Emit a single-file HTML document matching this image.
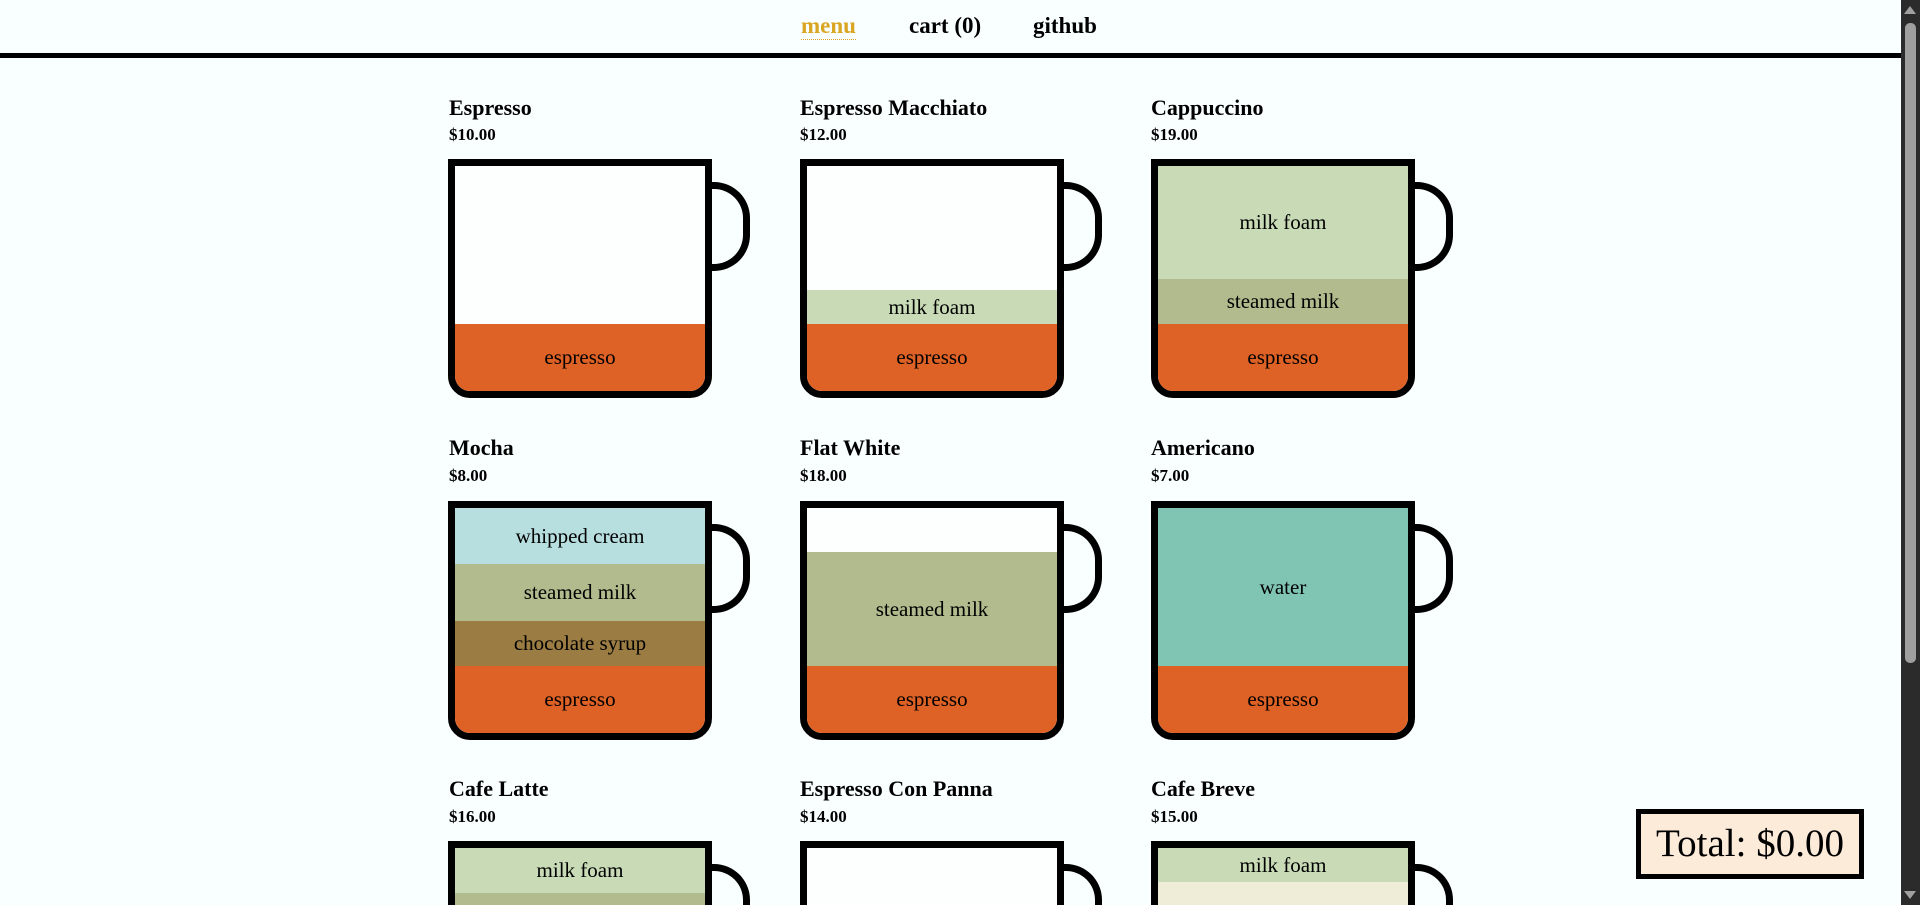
<!DOCTYPE html>
<html><head><meta charset="utf-8">
<style>
*{margin:0;padding:0;box-sizing:border-box}
html,body{width:1920px;height:905px;overflow:hidden;background:#f8fffe;font-family:"Liberation Serif",serif;color:#000}
#page{position:relative;width:1920px;height:905px;overflow:hidden;background:#f8fffe}
.abs{position:absolute}
.nav a{position:absolute;top:12px;font-size:23px;font-weight:bold;color:#000;text-decoration:none;line-height:27px}
.title{position:absolute;font-size:22px;font-weight:bold;line-height:24px}
.price{position:absolute;font-size:17px;font-weight:bold;line-height:18px}
.cup{position:absolute;width:264px;height:239px;border:7px solid #000;border-radius:0 0 22px 22px;overflow:hidden;background:#fdffff}
.handle{position:absolute;width:38px;height:89px;border:7px solid #000;border-left:none;border-radius:0 36px 36px 0}
.layer{position:absolute;left:0;width:100%;display:flex;align-items:center;justify-content:center;font-size:21px}
.esp{background:#de6125}.foam{background:#c8dbb6}.steam{background:#b1bb8d}.cream{background:#b8dfe0}.choc{background:#9b7c43}.water{background:#80c4b3}.half{background:#efedd8}
</style></head><body>
<div id="page">
<div class="nav">
<a href="#" style="left:801px;color:#daa520;border-bottom:1px dotted #daa520">menu</a>
<a href="#" style="left:909px">cart (0)</a>
<a href="#" style="left:1033px">github</a>
</div>
<div class="abs" style="left:0;top:53px;width:1901px;height:5px;background:#000"></div>

<!-- row 1 -->
<div class="title" style="left:449px;top:96px">Espresso</div>
<div class="price" style="left:449px;top:126px">$10.00</div>
<div class="cup" style="left:448px;top:159px">
<div class="layer esp" style="top:158px;height:67px">espresso</div></div>
<div class="handle" style="left:712px;top:182px"></div>

<div class="title" style="left:800px;top:96px">Espresso Macchiato</div>
<div class="price" style="left:800px;top:126px">$12.00</div>
<div class="cup" style="left:800px;top:159px">
<div class="layer foam" style="top:124px;height:34px">milk foam</div>
<div class="layer esp" style="top:158px;height:67px">espresso</div></div>
<div class="handle" style="left:1064px;top:182px"></div>

<div class="title" style="left:1151px;top:96px">Cappuccino</div>
<div class="price" style="left:1151px;top:126px">$19.00</div>
<div class="cup" style="left:1151px;top:159px">
<div class="layer foam" style="top:0;height:113px">milk foam</div>
<div class="layer steam" style="top:113px;height:45px">steamed milk</div>
<div class="layer esp" style="top:158px;height:67px">espresso</div></div>
<div class="handle" style="left:1415px;top:182px"></div>

<!-- row 2 -->
<div class="title" style="left:449px;top:436px">Mocha</div>
<div class="price" style="left:449px;top:467px">$8.00</div>
<div class="cup" style="left:448px;top:501px">
<div class="layer cream" style="top:0;height:56px">whipped cream</div>
<div class="layer steam" style="top:56px;height:57px">steamed milk</div>
<div class="layer choc" style="top:113px;height:45px">chocolate syrup</div>
<div class="layer esp" style="top:158px;height:67px">espresso</div></div>
<div class="handle" style="left:712px;top:524px"></div>

<div class="title" style="left:800px;top:436px">Flat White</div>
<div class="price" style="left:800px;top:467px">$18.00</div>
<div class="cup" style="left:800px;top:501px">
<div class="layer steam" style="top:44px;height:114px">steamed milk</div>
<div class="layer esp" style="top:158px;height:67px">espresso</div></div>
<div class="handle" style="left:1064px;top:524px"></div>

<div class="title" style="left:1151px;top:436px">Americano</div>
<div class="price" style="left:1151px;top:467px">$7.00</div>
<div class="cup" style="left:1151px;top:501px">
<div class="layer water" style="top:0;height:158px">water</div>
<div class="layer esp" style="top:158px;height:67px">espresso</div></div>
<div class="handle" style="left:1415px;top:524px"></div>

<!-- row 3 -->
<div class="title" style="left:449px;top:777px">Cafe Latte</div>
<div class="price" style="left:449px;top:808px">$16.00</div>
<div class="cup" style="left:448px;top:841px">
<div class="layer foam" style="top:0;height:45px">milk foam</div>
<div class="layer steam" style="top:45px;height:113px">steamed milk</div>
<div class="layer esp" style="top:158px;height:67px">espresso</div></div>
<div class="handle" style="left:712px;top:864px"></div>

<div class="title" style="left:800px;top:777px">Espresso Con Panna</div>
<div class="price" style="left:800px;top:808px">$14.00</div>
<div class="cup" style="left:800px;top:841px"></div>
<div class="handle" style="left:1064px;top:864px"></div>

<div class="title" style="left:1151px;top:777px">Cafe Breve</div>
<div class="price" style="left:1151px;top:808px">$15.00</div>
<div class="cup" style="left:1151px;top:841px">
<div class="layer foam" style="top:0;height:34px">milk foam</div>
<div class="layer half" style="top:34px;height:124px">half and half</div>
<div class="layer esp" style="top:158px;height:67px">espresso</div></div>
<div class="handle" style="left:1415px;top:864px"></div>

<div class="abs" style="left:1636px;top:809px;width:228px;height:70px;border:5px solid #000;background:#fcebd9;font-size:39px;line-height:60px;text-align:center">Total: $0.00</div>

<div class="abs" style="left:1901px;top:0;width:19px;height:905px;background:#2b2b2b">
<div class="abs" style="left:3px;top:6px;width:0;height:0;border-left:6px solid transparent;border-right:6px solid transparent;border-bottom:8px solid #a0a0a0"></div>
<div class="abs" style="left:4px;top:23px;width:11px;height:640px;background:#9f9f9f;border-radius:5px"></div>
<div class="abs" style="left:3px;top:891px;width:0;height:0;border-left:6px solid transparent;border-right:6px solid transparent;border-top:8px solid #a0a0a0"></div>
</div>
</div>
</body></html>
